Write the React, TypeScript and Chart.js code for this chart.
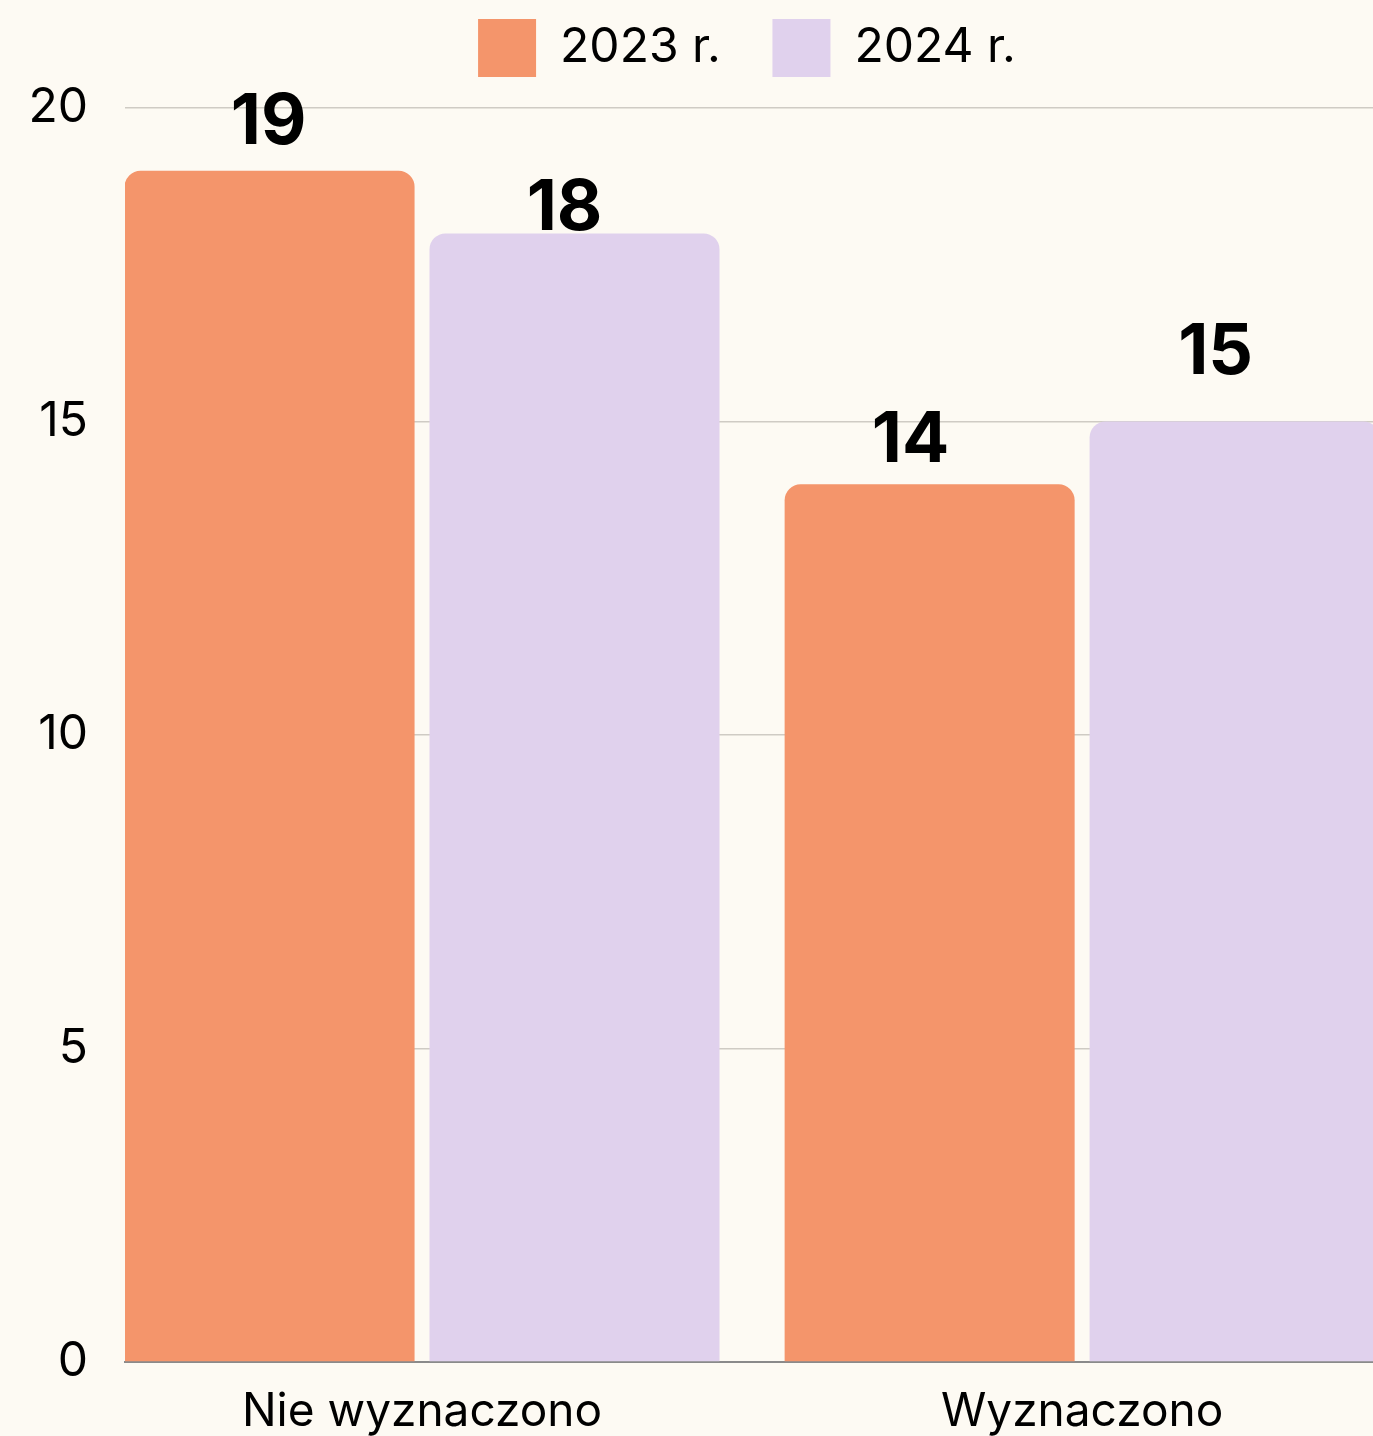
import React, { useEffect, useRef } from "react";
import { Chart, registerables } from "chart.js";

Chart.register(...registerables);

const categories = ["Nie wyznaczono", "Wyznaczono"];
const seriesNames = ["2023 r.", "2024 r."];
const values2023 = [19, 14];
const values2024 = [18, 15];
const yTicks = [0, 5, 10, 15, 20];

const COLORS = ["#f4956b", "#e0d1ed"];
const BG = "#fdfaf3";
const FONT = "Inter, 'Noto Sans', sans-serif";

// per-label vertical lift (px above bar top) and horizontal nudge, as in the reference
const labelLift = [
  [27, 22],
  [3, 48],
];
const labelDx = [
  [-1, -19],
  [-10, -19],
];

const valueLabels = {
  id: "valueLabels",
  afterDatasetsDraw(chart: any) {
    const ctx = chart.ctx;
    ctx.save();
    ctx.font = `bold 70px ${FONT}`;
    ctx.fillStyle = "#000";
    ctx.textAlign = "center";
    ctx.textBaseline = "alphabetic";
    chart.data.datasets.forEach((ds: any, di: number) => {
      const meta = chart.getDatasetMeta(di);
      meta.data.forEach((el: any, i: number) => {
        const v = ds.data[i].y;
        ctx.fillText(String(v), el.x + labelDx[di][i], el.y - labelLift[di][i]);
      });
    });
    ctx.restore();
  },
};

// adds empty space below the legend
const legendSpacer = {
  id: "legendSpacer",
  beforeLayout(chart: any) {
    const lg = chart.legend;
    if (lg && !lg.__spaced) {
      const fit = lg.fit.bind(lg);
      lg.fit = function () {
        fit();
        this.height += 21;
      };
      lg.__spaced = true;
    }
  },
};

export default function App() {
  const ref = useRef<HTMLCanvasElement>(null);
  useEffect(() => {
    if (!ref.current) return;
    const series = [values2023, values2024];
    const chart = new Chart(ref.current, {
      type: "bar",
      data: {
        datasets: series.map((vals, di) => ({
          label: seriesNames[di],
          data: vals.map((v, i) => ({ x: i, y: v })),
          backgroundColor: COLORS[di],
          borderWidth: 0,
          borderRadius: { topLeft: 16, topRight: 16, bottomLeft: 0, bottomRight: 0 },
          borderSkipped: "start",
          categoryPercentage: 0.924,
          barPercentage: 0.951,
        })),
      },
      options: {
        animation: false,
        responsive: true,
        maintainAspectRatio: false,
        layout: { padding: { top: 8, left: 0, right: 0, bottom: 0 } },
        plugins: {
          legend: {
            position: "top",
            labels: {
              boxWidth: 58,
              boxHeight: 58,
              padding: 11,
              color: "#000",
              font: { family: FONT, size: 48 },
              generateLabels: (chart: any) => {
                const items = (Chart.defaults.plugins.legend.labels as any).generateLabels(chart);
                items.forEach((it: any, i: number) => {
                  if (i < items.length - 1) it.text = it.text + "   ";
                });
                return items;
              },
            },
          },
          tooltip: { enabled: false },
        },
        scales: {
          x: {
            type: "linear",
            offset: false,
            min: -0.45,
            max: 1.624,
            afterBuildTicks: (scale: any) => {
              scale.ticks = categories.map((_, i) => ({ value: i }));
            },
            afterFit: (scale: any) => {
              scale.height = 74;
            },
            grid: { display: false, drawTicks: false },
            border: { display: true, color: "#8a8a8a", width: 2 },
            ticks: {
              color: "#000",
              padding: 23,
              maxRotation: 0,
              autoSkip: false,
              font: { family: FONT, size: 46 },
              callback: (v: any) => categories[Math.round(Number(v))] ?? "",
            },
          },
          y: {
            min: 0,
            max: 20,
            afterBuildTicks: (scale: any) => {
              scale.ticks = yTicks.map((v) => ({ value: v }));
            },
            afterFit: (scale: any) => {
              scale.width = 125;
            },
            grid: { color: "#cfcbc4", lineWidth: 1.5, drawTicks: false },
            border: { display: false },
            ticks: {
              color: "#000",
              padding: 37,
              font: { family: FONT, size: 48 },
            },
          },
        },
      },
      plugins: [valueLabels, legendSpacer],
    } as any);
    return () => chart.destroy();
  }, []);

  return (
    <div
      style={{
        position: "fixed",
        left: 0,
        top: 0,
        width: 1373,
        height: 1436,
        overflow: "hidden",
        background: BG,
      }}
    >
      <div style={{ position: "relative", width: 1494, height: 1436 }}>
        <canvas ref={ref} />
      </div>
    </div>
  );
}
